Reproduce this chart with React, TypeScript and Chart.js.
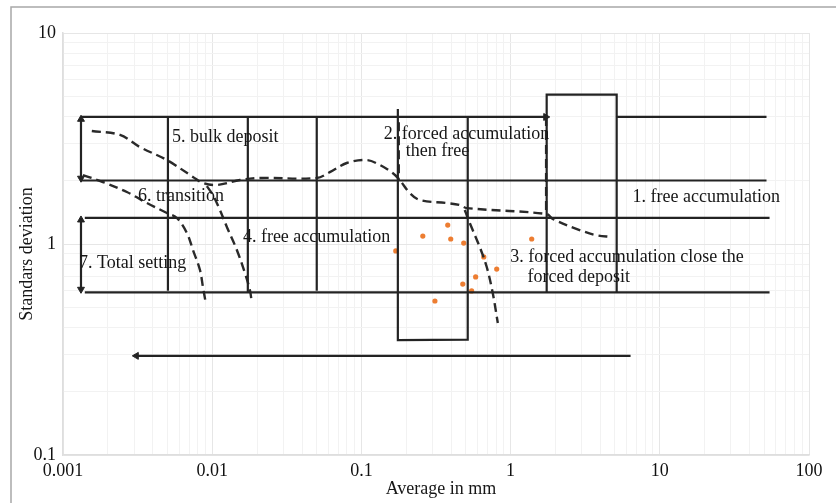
import React, { useEffect, useRef } from "react";
import { Chart, registerables } from "chart.js";

Chart.register(...registerables);

type Pt = [number, number];

// ---- axis labels ----
const xTickLabels = ["0.001", "0.01", "0.1", "1", "10", "100"];
const yTickLabels = ["0.1", "1", "10"];
const xTitle = "Average in mm";
const yTitle = "Standars deviation";

// ---- solid guide lines (x in mm, y = standard deviation) ----
const upperLeftLine: Pt[] = [[0.00132, 4], [1.72, 4]];
const upperRightLine: Pt[] = [[5.14, 4], [51.9, 4]];
const rightBox: Pt[] = [[1.745, 0.59], [1.745, 5.1], [5.14, 5.1], [5.14, 0.59]];
const line2: Pt[] = [[0.00132, 2], [51.9, 2]];
const line133: Pt[] = [[0.0014, 1.33], [54.4, 1.33]];
const line059: Pt[] = [[0.0014, 0.59], [54.4, 0.59]];
const bottomArrow: Pt[] = [[6.37, 0.295], [0.0031, 0.295]];
const leftArrowUpper: Pt[] = [[0.00132, 3.9], [0.00132, 2.05]];
const leftArrowLower: Pt[] = [[0.00132, 1.3], [0.00132, 0.61]];
const vLine1: Pt[] = [[0.00505, 4], [0.00505, 0.6]];
const vLine2: Pt[] = [[0.01733, 4], [0.01733, 0.59]];
const vLine3: Pt[] = [[0.0502, 4], [0.0502, 0.6]];
const middleBox: Pt[] = [[0.1755, 4.36], [0.1755, 0.35], [0.516, 0.352], [0.516, 3.95]];

// ---- dashed curves ----
const curveMain: Pt[] = [
  [0.00156, 3.43], [0.00241, 3.29], [0.00328, 2.88], [0.00497, 2.5], [0.00743, 2.08],
  [0.00867, 1.945], [0.01075, 1.904], [0.01533, 2.01], [0.02087, 2.055], [0.0502, 2.055],
  [0.0614, 2.19], [0.0798, 2.42], [0.1086, 2.5], [0.1327, 2.37], [0.162, 2.17],
  [0.1807, 2.01], [0.211, 1.745], [0.246, 1.616], [0.373, 1.564], [0.456, 1.53],
  [0.508, 1.48], [1.745, 1.387], [1.914, 1.314], [2.9, 1.165], [3.77, 1.1], [4.75, 1.08],
];
const curveTransition: Pt[] = [
  [0.00136, 2.12], [0.00185, 1.967], [0.00268, 1.764], [0.00365, 1.564], [0.00497, 1.403],
  [0.0058, 1.328], [0.00677, 1.127], [0.00743, 0.937], [0.00828, 0.753], [0.00867, 0.625],
  [0.00908, 0.52],
];
const curveBulk: Pt[] = [
  [0.00921, 1.88], [0.0101, 1.707], [0.01127, 1.449], [0.01254, 1.204], [0.01463, 0.937],
  [0.01656, 0.729], [0.01789, 0.605], [0.01845, 0.525],
];
const curveForced: Pt[] = [
  [0.493, 1.449], [0.516, 1.33], [0.557, 1.165], [0.621, 0.968], [0.692, 0.778],
  [0.759, 0.586], [0.821, 0.422],
];
const dashedV1: Pt[] = [[0.178, 3.78], [0.178, 2.0]];
const dashedV2: Pt[] = [[1.73, 4], [1.73, 1.39]];

// ---- orange samples ----
const sampleX = [0.379, 0.258, 0.397, 0.485, 1.385, 0.17, 0.661, 0.807, 0.583, 0.478, 0.548, 0.311];
const sampleY = [1.23, 1.09, 1.056, 1.01, 1.056, 0.927, 0.868, 0.761, 0.698, 0.646, 0.599, 0.537];

// ---- annotation texts, anchored at (x, y) data positions ----
const annotationTexts = [
  "5. bulk deposit",
  "2. forced accumulation",
  "then free",
  "6. transition",
  "1. free accumulation",
  "4. free accumulation",
  "7. Total setting",
  "3. forced accumulation close the",
  "forced deposit",
];
const annotationX = [0.00537, 0.1413, 0.198, 0.00318, 6.57, 0.01606, 0.00128, 0.995, 1.3];
const annotationY = [3.04, 3.14, 2.62, 1.6, 1.58, 1.022, 0.768, 0.822, 0.661];

const FONT = '"Liberation Serif", "Times New Roman", serif';
const INK = "#232323";

function logTicks(lo: number, hi: number) {
  const t: { value: number; major: boolean }[] = [];
  for (let e = lo; e < hi; e++) {
    for (let m = 1; m < 10; m++) {
      t.push({ value: parseFloat((m * Math.pow(10, e)).toPrecision(6)), major: m === 1 });
    }
  }
  t.push({ value: Math.pow(10, hi), major: true });
  return t;
}

const toXY = (pts: Pt[]) => pts.map(([x, y]) => ({ x, y }));

function solid(pts: Pt[], extra: any = {}) {
  return {
    data: toXY(pts),
    showLine: true,
    borderColor: INK,
    borderWidth: 2.2,
    pointRadius: 0,
    tension: 0,
    ...extra,
  };
}

function dashed(pts: Pt[], tension = 0.35) {
  return {
    data: toXY(pts),
    showLine: true,
    borderColor: "#2a2a2a",
    borderWidth: 2.4,
    borderDash: [9, 5],
    pointRadius: 0,
    tension,
  };
}

function arrowHeads(radii: number[], rotations: number[]) {
  return {
    pointStyle: "triangle",
    pointRadius: radii,
    pointRotation: rotations,
    pointBackgroundColor: INK,
    pointBorderColor: INK,
    pointBorderWidth: 1,
  };
}

const overlayPlugin = {
  id: "overlay",
  beforeDraw(chart: any) {
    const { ctx } = chart;
    ctx.save();
    ctx.fillStyle = "#ffffff";
    ctx.fillRect(0, 0, chart.width, chart.height);
    ctx.strokeStyle = "#a8a8a8";
    ctx.lineWidth = 1.5;
    ctx.beginPath();
    ctx.moveTo(11, chart.height);
    ctx.lineTo(11, 7);
    ctx.lineTo(chart.width, 7);
    ctx.stroke();
    ctx.restore();
  },
  afterDatasetsDraw(chart: any) {
    const { ctx, chartArea } = chart;
    const xs = chart.scales.x;
    const ys = chart.scales.y;
    ctx.save();
    ctx.font = `18px ${FONT}`;
    ctx.fillStyle = "#161616";
    ctx.textBaseline = "alphabetic";
    ctx.textAlign = "left";
    annotationTexts.forEach((t, i) => {
      ctx.fillText(t, xs.getPixelForValue(annotationX[i]), ys.getPixelForValue(annotationY[i]));
    });
    // axis titles
    ctx.textAlign = "center";
    ctx.textBaseline = "middle";
    ctx.fillText(xTitle, (chartArea.left + chartArea.right) / 2 + 5, chartArea.bottom + 34);
    ctx.translate(27, (chartArea.top + chartArea.bottom) / 2 + 10);
    ctx.rotate(-Math.PI / 2);
    ctx.fillText(yTitle, 0, 0);
    ctx.restore();
  },
};

export default function App() {
  const canvasRef = useRef<HTMLCanvasElement | null>(null);

  useEffect(() => {
    document.body.style.margin = "0";
    const canvas = canvasRef.current;
    if (!canvas) return;

    const xMajor = logTicks(-3, 2);
    const yMajor = logTicks(-1, 1);

    const gridColor = (c: any) => (c.tick && c.tick.major ? "#e6e6e6" : "#f2f2f2");

    const chart = new Chart(canvas, {
      type: "scatter",
      data: {
        datasets: [
          solid(upperLeftLine, arrowHeads([0, 4], [0, 90])),
          solid(upperRightLine),
          solid(rightBox),
          solid(line2),
          solid(line133),
          solid(line059),
          solid(bottomArrow, arrowHeads([0, 4], [0, 270])),
          solid(leftArrowUpper, arrowHeads([4, 4], [0, 180])),
          solid(leftArrowLower, arrowHeads([4, 4], [0, 180])),
          solid(vLine1),
          solid(vLine2),
          solid(vLine3),
          solid(middleBox),
          dashed(curveMain),
          dashed(curveTransition),
          dashed(curveBulk),
          dashed(curveForced),
          dashed(dashedV1, 0),
          dashed(dashedV2, 0),
          {
            data: sampleX.map((x, i) => ({ x, y: sampleY[i] })),
            showLine: false,
            pointRadius: 2.6,
            pointBackgroundColor: "#ED7D31",
            pointBorderColor: "#ED7D31",
            pointBorderWidth: 0,
          },
        ] as any,
      },
      options: {
        responsive: false,
        animation: false,
        devicePixelRatio: 1,
        events: [],
        layout: { padding: { top: 33, right: 27, left: 0, bottom: 0 } },
        plugins: {
          legend: { display: false },
          tooltip: { enabled: false },
        },
        scales: {
          x: {
            type: "logarithmic",
            min: 0.001,
            max: 100,
            afterBuildTicks: (s: any) => {
              s.ticks = xMajor.map((t) => ({ ...t }));
            },
            afterFit: (s: any) => {
              s.height = 48;
            },
            grid: { color: gridColor, lineWidth: 1, drawTicks: false },
            border: { color: "#dedede", width: 1.5 },
            ticks: {
              autoSkip: false,
              maxRotation: 0,
              padding: 5,
              color: "#111",
              font: { family: FONT, size: 18 },
              callback: (value: any) => {
                const e = Math.round(Math.log10(Number(value)));
                const isPow = Math.abs(Math.pow(10, e) - Number(value)) < 1e-9 * Math.pow(10, e);
                return isPow ? xTickLabels[e + 3] : "";
              },
            },
          },
          y: {
            type: "logarithmic",
            min: 0.1,
            max: 10,
            afterBuildTicks: (s: any) => {
              s.ticks = yMajor.map((t) => ({ ...t }));
            },
            afterFit: (s: any) => {
              s.width = 63;
            },
            grid: { color: gridColor, lineWidth: 1, drawTicks: false },
            border: { color: "#dedede", width: 1.5 },
            ticks: {
              autoSkip: false,
              padding: 7,
              color: "#111",
              font: { family: FONT, size: 18 },
              callback: (value: any) => {
                const e = Math.round(Math.log10(Number(value)));
                const isPow = Math.abs(Math.pow(10, e) - Number(value)) < 1e-9 * Math.pow(10, e);
                return isPow ? yTickLabels[e + 1] : "";
              },
            },
          },
        },
      } as any,
      plugins: [overlayPlugin],
    });

    return () => {
      chart.destroy();
    };
  }, []);

  return <canvas ref={canvasRef} width={836} height={503} style={{ display: "block" }} />;
}
